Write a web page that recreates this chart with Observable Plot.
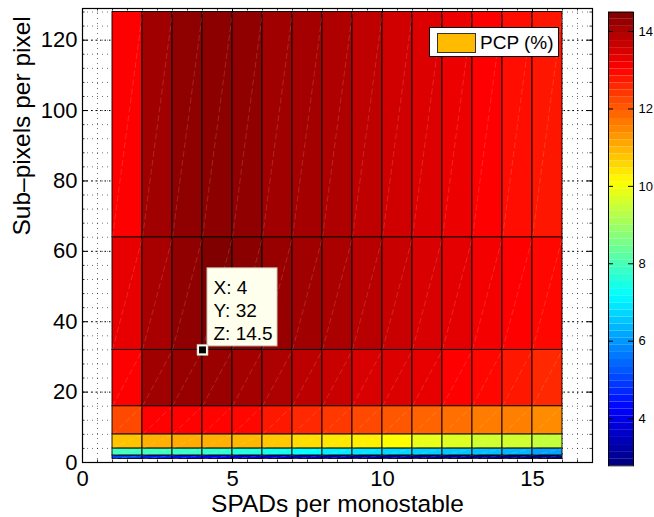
<!DOCTYPE html>
<html><head><meta charset="utf-8">
<script src="https://cdn.jsdelivr.net/npm/d3@7"></script>
<script src="https://cdn.jsdelivr.net/npm/@observablehq/plot@0.6"></script>
<style>
body{margin:0;background:#fff;font-family:"Liberation Sans",Arial,sans-serif;}
#wrap{position:relative;width:654px;height:517px;overflow:hidden;}
#main{position:absolute;left:0;top:0;}
#cb{position:absolute;left:600px;top:0;}
#legend{position:absolute;left:429px;top:27px;width:128px;height:28px;border:1px solid #000;background:#fff;}
#legend .sw{position:absolute;left:7px;top:5px;width:37px;height:18px;background:#FFBB00;border:1px solid #333;}
#legend .lb{position:absolute;left:50px;top:0;line-height:29px;font-size:19px;color:#000;}
</style></head><body>
<div id="wrap"><div id="main"></div><div id="cb"></div>
<div id="legend"><div class="sw"></div><div class="lb">PCP (%)</div></div></div>
<script>
// ---- data ----
const spads = [1,2,3,4,5,6,7,8,9,10,11,12,13,14,15,16];
const subpixels = [1,2,4,8,16,32,64,128];
// PCP (%) values, one array per sub-pixel row, for SPADs = 1..15
const pcp_sub1  = [5.00, 4.60, 4.40, 4.25, 3.90, 3.72, 3.50, 3.30, 3.20, 3.10, 3.00, 2.95, 2.90, 2.85, 2.78];
const pcp_sub2  = [7.91, 7.91, 7.82, 7.72, 7.54, 7.36, 7.18, 6.99, 6.86, 6.73, 6.64, 6.54, 6.45, 6.36, 6.13];
const pcp_sub4  = [10.78, 11.01, 11.06, 11.01, 10.92, 10.74, 10.50, 10.37, 10.28, 10.11, 9.84, 9.71, 9.57, 9.57, 9.43];
const pcp_sub8  = [12.21, 13.02, 13.02, 13.00, 12.95, 12.76, 12.58, 12.39, 12.21, 12.03, 11.89, 11.75, 11.61, 11.56, 11.43];
const pcp_sub16 = [13.04, 14.13, 14.22, 14.18, 14.07, 13.98, 13.80, 13.67, 13.48, 13.44, 13.30, 13.04, 12.95, 12.77, 12.58];
const pcp_sub32 = [13.30, 14.03, 14.31, 14.50, 14.38, 14.22, 14.13, 14.01, 13.85, 13.67, 13.48, 13.35, 13.16, 13.04, 12.95];
const pcp_sub64 = [13.04, 14.12, 14.32, 14.34, 14.30, 14.12, 14.08, 13.95, 13.78, 13.58, 13.42, 13.24, 13.04, 12.88, 12.78];
const xTicks = [0,5,10,15];
const yTicks = [0,20,40,60,80,100,120];
const cbTicks = [4,6,8,10,12,14];
const tipSpads = 4, tipSub = 32;

// ---- build table ----
const rowsZ = [pcp_sub1,pcp_sub2,pcp_sub4,pcp_sub8,pcp_sub16,pcp_sub32,pcp_sub64];
const cells = [];
rowsZ.forEach((vals,j)=>vals.forEach((z,i)=>cells.push({x1:spads[i],x2:spads[i+1],y1:subpixels[j],y2:subpixels[j+1],z})));
const [zmin,zmax] = d3.extent(cells, d=>d.z);
const tipZ = rowsZ[subpixels.indexOf(tipSub)][spads.indexOf(tipSpads)];
const tip = [{x:tipSpads,y:tipSub,label:`X: ${tipSpads}\nY: ${tipSub}\nZ: ${tipZ}`}];

const jet = t => {
  const c = v => Math.round(255*Math.max(0,Math.min(1,v)));
  return `rgb(${c(1.5-Math.abs(4*t-3))},${c(1.5-Math.abs(4*t-2))},${c(1.5-Math.abs(4*t-1))})`;
};
const colorOpt = {type:"linear",domain:[zmin,zmax],interpolate:jet};

const W=654,H=517,mL=82,mR=62,mT=8,mB=55;
const xDom=[0,17], yDom=[0,129];
const ux=(xDom[1]-xDom[0])/(W-mL-mR), uy=(yDom[1]-yDom[0])/(H-mT-mB);
const xMinor=d3.range(0,17.001,0.5), yMinor=d3.range(0,129,4);
const font='"Liberation Sans",Arial,sans-serif';

const main = Plot.plot({
  width:W,height:H,marginLeft:mL,marginRight:mR,marginTop:mT,marginBottom:mB,
  style:{fontFamily:font,background:"transparent",color:"#000",overflow:"visible"},
  x:{domain:xDom},y:{domain:yDom},color:colorOpt,
  marks:[
    Plot.ruleY(yMinor,{stroke:"#000",strokeOpacity:0.55,strokeDasharray:"1,4",strokeWidth:1}),
    Plot.ruleX(xMinor,{stroke:"#000",strokeOpacity:0.55,strokeDasharray:"1,4",strokeWidth:1}),
    Plot.ruleY(yTicks,{stroke:"#000",strokeDasharray:"1.5,3",strokeWidth:1}),
    Plot.ruleX(xTicks,{stroke:"#000",strokeDasharray:"1.5,3",strokeWidth:1}),
    Plot.rect(cells,{x1:"x1",x2:"x2",y1:"y1",y2:"y2",fill:"z",stroke:"#000",strokeWidth:0.9}),
    Plot.link(cells,{x1:"x1",y1:"y1",x2:"x2",y2:"y2",stroke:"#fff",strokeOpacity:0.25,strokeWidth:0.6,strokeDasharray:"6,3"}),
    // ticks
    Plot.ruleX(xTicks,{y1:yDom[0],y2:yDom[0]+5*uy,stroke:"#000"}),
    Plot.ruleX(xTicks,{y1:yDom[1],y2:yDom[1]-5*uy,stroke:"#000"}),
    Plot.ruleY(yTicks,{x1:xDom[0],x2:xDom[0]+5*ux,stroke:"#000"}),
    Plot.ruleY(yTicks,{x1:xDom[1],x2:xDom[1]-5*ux,stroke:"#000"}),
    Plot.ruleX(xMinor,{y1:yDom[0],y2:yDom[0]+2.5*uy,stroke:"#000",strokeWidth:0.8}),
    Plot.ruleX(xMinor,{y1:yDom[1],y2:yDom[1]-2.5*uy,stroke:"#000",strokeWidth:0.8}),
    Plot.ruleY(yMinor,{x1:xDom[0],x2:xDom[0]+2.5*ux,stroke:"#000",strokeWidth:0.8}),
    Plot.ruleY(yMinor,{x1:xDom[1],x2:xDom[1]-2.5*ux,stroke:"#000",strokeWidth:0.8}),
    Plot.frame({stroke:"#000",strokeWidth:1.2}),
    Plot.axisX({ticks:xTicks,tickSize:0,tickPadding:8,fontSize:22,label:null}),
    Plot.axisY({ticks:yTicks,tickSize:0,tickPadding:5,fontSize:22,label:null}),
    Plot.text(["SPADs per monostable"],{frameAnchor:"bottom",dy:41.5,fontSize:24.5,lineAnchor:"middle"}),
    Plot.text(["Sub\u2013pixels per pixel"],{frameAnchor:"left",dx:-60,rotate:-90,fontSize:24.5,lineAnchor:"middle"}),
    // datatip
    Plot.rect(tip,{x1:"x",x2:"x",y1:"y",y2:"y",insetLeft:5,insetRight:-75,insetTop:-81.5,insetBottom:3.5,fill:"#ffffee",stroke:"#c8c8b8",strokeWidth:1}),
    Plot.text(tip,{x:"x",y:"y",text:"label",textAnchor:"start",lineAnchor:"top",dx:11,dy:-72,fontSize:19,lineHeight:1.2,fill:"#000"}),
    Plot.dot(tip,{x:"x",y:"y",symbol:"square",r:6.2,fill:"#ffffee",stroke:"#bbb",strokeWidth:0.6}),
    Plot.dot(tip,{x:"x",y:"y",symbol:"square",r:3.9,fill:"#000"})
  ]
});
document.getElementById("main").appendChild(main);

// ---- colorbar ----
const nb=64, span=zmax-zmin;
const bands=d3.range(nb).map(k=>({y1:zmin+k*span/nb,y2:zmin+(k+1)*span/nb,v:zmin+(k+0.5)*span/nb}));
const cbW=54, cbL=8, cbR=21, cbT=11.7, cbB=517-465.3;
const cux = 1/(cbW-cbL-cbR);
const cb = Plot.plot({
  width:cbW,height:H,marginLeft:cbL,marginRight:cbR,marginTop:cbT,marginBottom:cbB,
  style:{fontFamily:font,background:"transparent",color:"#000",overflow:"visible"},
  x:{domain:[0,1],axis:null},y:{domain:[zmin,zmax]},color:colorOpt,
  marks:[
    Plot.rect(bands,{x1:0,x2:1,y1:"y1",y2:"y2",fill:"v"}),
    Plot.ruleY(cbTicks,{x1:0,x2:5*cux,stroke:"#000"}),
    Plot.ruleY(cbTicks,{x1:1,x2:1-5*cux,stroke:"#000"}),
    Plot.frame({stroke:"#000",strokeWidth:1}),
    Plot.axisY({ticks:cbTicks,anchor:"right",tickSize:0,tickPadding:5,fontSize:13,label:null})
  ]
});
document.getElementById("cb").appendChild(cb);
</script></body></html>
